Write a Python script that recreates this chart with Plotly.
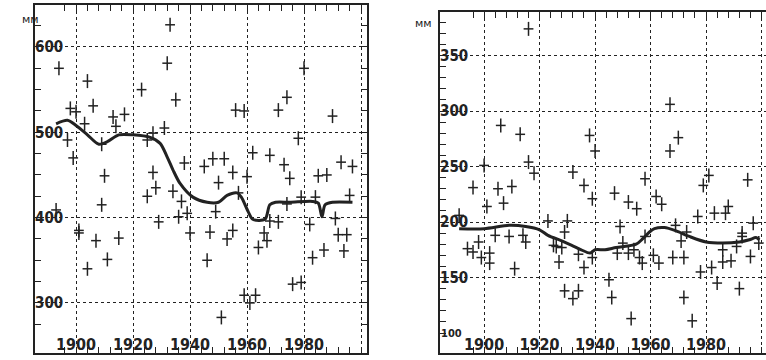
import plotly.graph_objects as go

# ---- Left panel data (mm) ----
left_years = [1933, 1894, 1904, 1932, 1923, 1935, 1980, 1974, 1971, 1956, 1959, 1990,
              1898, 1900, 1906, 1913, 1917, 1914, 1903, 1931, 1927, 1897, 1909, 1925,
              1978, 1899, 1962, 1968, 1938, 1945, 1948, 1952, 1973, 1993, 1997, 1927,
              1910, 1955, 1960, 1975, 1985, 1988, 1950, 1925, 1928, 1934, 1937, 1957,
              1909, 1893, 1939, 1936, 1949, 1929, 1979, 1984, 1996, 1974, 1968, 1971,
              1982, 1991, 1901, 1901, 1940, 1947, 1955, 1953, 1966, 1967, 1964, 1907,
              1915, 1992, 1995, 1987, 1994, 1911, 1946, 1983, 1904, 1976, 1979, 1959,
              1963, 1961, 1951]
left_vals = [626, 575, 560, 581, 550, 538, 575, 541, 526, 526, 525, 519,
             528, 524, 531, 518, 521, 507, 510, 505, 499, 491, 486, 491,
             493, 470, 476, 473, 464, 460, 469, 469, 462, 465, 460, 453,
             449, 453, 448, 446, 449, 450, 441, 425, 435, 431, 419, 429,
             415, 409, 405, 401, 407, 395, 424, 424, 426, 416, 396, 395,
             392, 399, 385, 382, 382, 383, 385, 375, 382, 373, 365, 373,
             376, 380, 380, 362, 361, 351, 350, 353, 340, 322, 324, 309,
             309, 300, 283]
left_curve_years = [1893, 1897, 1900, 1904, 1908, 1911, 1915, 1920, 1926, 1929.5,
                    1932, 1934, 1936.5, 1941, 1946, 1950, 1953, 1956.5, 1958, 1960.4,
                    1962, 1966.3, 1968, 1970, 1975, 1983, 1985, 1986.3, 1987.4, 1990, 1997]
left_curve_vals = [510, 514, 508, 497, 486, 489, 497, 497, 494, 487,
                   471, 456, 440, 424, 418, 418, 426, 429, 424, 407,
                   398, 398, 415, 418, 418, 419, 417, 401, 415, 418, 418]

# ---- Right panel data (mm) ----
right_years = [1916, 1906, 1913, 1938, 1940, 1967, 1970, 1967, 1900, 1916, 1918, 1932,
               1981, 1995, 1958, 1896, 1905, 1910, 1901, 1907, 1936, 1939, 1947, 1952,
               1955, 1962, 1964, 1979, 1983, 1987, 1988, 1977, 1891, 1923, 1930, 1949,
               1997, 1973, 1993, 1898, 1894, 1896, 1899, 1902, 1902, 1904, 1909, 1914,
               1915, 1911, 1925, 1926, 1928, 1929, 1927, 1934, 1936, 1939, 1948, 1950,
               1952, 1954, 1956, 1957, 1961, 1963, 1968, 1972, 1971, 1969, 1978, 1982,
               1986, 1989, 1986, 1984, 1992, 1996, 1999, 1993, 1929, 1934, 1932, 1945,
               1946, 1953, 1972, 1975, 1958, 1991]
right_vals = [374, 287, 279, 278, 264, 306, 276, 264, 251, 254, 244, 245,
              242, 238, 239, 231, 230, 232, 214, 217, 233, 221, 226, 218,
              212, 223, 216, 233, 208, 208, 214, 205, 206, 201, 201, 196,
              199, 191, 190, 182, 176, 173, 168, 172, 163, 188, 187, 188,
              182, 158, 179, 178, 177, 191, 164, 171, 159, 168, 172, 181,
              172, 175, 168, 163, 170, 163, 168, 168, 183, 197, 155, 159,
              164, 165, 175, 145, 140, 169, 181, 187, 138, 138, 131, 148,
              132, 113, 132, 111, 187, 178]
right_curve_years = [1891, 1900, 1909, 1915, 1920, 1923, 1928, 1931.6, 1935, 1938.2,
                     1940, 1943.6, 1947.6, 1954.8, 1957.2, 1959.6, 1961.4, 1965, 1969.2,
                     1974, 1980, 1986, 1992, 1995.6, 1998, 1999.2]
right_curve_vals = [194, 194, 197, 196, 193, 188, 183, 179, 175, 172,
                    175, 175, 177, 180, 185, 191, 194, 195, 192,
                    187, 182, 181, 182, 184, 186, 184]

left_ytick_vals = [300, 400, 500, 600]
right_ytick_vals = [150, 200, 250, 300, 350]
xtick_vals = [1900, 1920, 1940, 1960, 1980, 2000]
xtick_text = ["1900", "1920", "1940", "1960", "1980", ""]
x_small_ticks = list(range(1888, 2004, 4))
left_y_small_ticks = list(range(250, 650, 25))
right_y_small_ticks = list(range(90, 390, 10))
unit_label = "мм"
bottom_right_label = "100"

INK = "#222222"
FONT = "Liberation Sans Narrow, DejaVu Sans Condensed, Arial Narrow, sans-serif"

W, H = 766, 360
LX = [1885.6, 2002.1]
LY = [241.3, 649.2]
RX = [1884.1, 2001.6]
RY = [82, 389.2]


def px_x(p):
    return p / W


def px_y(p):
    return 1 - p / H


fig = go.Figure()

vbar = dict(symbol="line-ns", size=10, color=INK, line=dict(width=1.5, color=INK))
hbar = dict(symbol="line-ew", size=7, color=INK, line=dict(width=1.5, color=INK))

for xs, ys, cx, cy, xa, ya in [
    (left_years, left_vals, left_curve_years, left_curve_vals, "x", "y"),
    (right_years, right_vals, right_curve_years, right_curve_vals, "x2", "y2"),
]:
    fig.add_trace(go.Scatter(x=xs, y=ys, mode="markers", marker=vbar,
                             xaxis=xa, yaxis=ya, showlegend=False, hoverinfo="skip"))
    fig.add_trace(go.Scatter(x=xs, y=ys, mode="markers", marker=hbar,
                             xaxis=xa, yaxis=ya, showlegend=False))
    fig.add_trace(go.Scatter(x=cx, y=cy, mode="lines",
                             line=dict(color=INK, width=3, shape="spline", smoothing=0.8),
                             xaxis=xa, yaxis=ya, showlegend=False))

# empty traces on tick-only overlay axes
for xa, ya in [("x3", "y"), ("x", "y3"), ("x4", "y2"), ("x2", "y4")]:
    fig.add_trace(go.Scatter(x=[], y=[], xaxis=xa, yaxis=ya, showlegend=False))

common_x = dict(
    tickmode="array", tickvals=xtick_vals, ticktext=xtick_text, ticks="",
    ticklabelposition="inside",
    tickfont=dict(family=FONT, size=16, color=INK, weight="bold"),
    showgrid=True, gridcolor=INK, griddash="dot", gridwidth=1,
    showline=True, linecolor=INK, linewidth=2, zeroline=False,
)
common_y = dict(
    tickmode="array", ticks="", ticklabelposition="inside",
    tickfont=dict(family=FONT, size=15, color=INK, weight="bold"),
    showgrid=True, gridcolor=INK, griddash="dot", gridwidth=1,
    showline=True, linecolor=INK, linewidth=2, zeroline=False,
)
tick_only = dict(
    tickmode="array", ticks="inside", ticklen=6, tickwidth=1.3, tickcolor=INK,
    showticklabels=False, showgrid=False, zeroline=False, showline=False,
)

fig.update_layout(
    width=W, height=H, autosize=False,
    margin=dict(l=0, r=0, t=0, b=0),
    paper_bgcolor="white", plot_bgcolor="white",
    xaxis=dict(domain=[px_x(35), px_x(367)], range=LX, anchor="y",
               mirror=True, **common_x),
    yaxis=dict(domain=[px_y(353), px_y(5)], range=LY, anchor="x",
               tickvals=left_ytick_vals, mirror=True, **common_y),
    xaxis2=dict(domain=[px_x(440), 1.0], range=RX, anchor="y2",
                mirror=True, **common_x),
    yaxis2=dict(domain=[px_y(353), px_y(12)], range=RY, anchor="x2",
                tickvals=right_ytick_vals, mirror=False, **common_y),
    xaxis3=dict(overlaying="x", anchor="y", range=LX, tickvals=x_small_ticks,
                side="bottom", mirror="ticks", **tick_only),
    yaxis3=dict(overlaying="y", anchor="x", range=LY, tickvals=left_y_small_ticks,
                side="left", mirror="ticks", **tick_only),
    xaxis4=dict(overlaying="x2", anchor="y2", range=RX, tickvals=x_small_ticks,
                side="bottom", mirror="ticks", **tick_only),
    yaxis4=dict(overlaying="y2", anchor="x2", range=RY, tickvals=right_y_small_ticks,
                side="left", **tick_only),
    annotations=[
        dict(text=unit_label, xref="paper", yref="paper", x=px_x(20), y=px_y(11),
             showarrow=False, font=dict(family="DejaVu Sans", size=11, color=INK)),
        dict(text=unit_label, xref="paper", yref="paper", x=px_x(423), y=px_y(15),
             showarrow=False, font=dict(family="DejaVu Sans", size=11, color=INK)),
        dict(text=bottom_right_label, xref="x2", yref="y2", x=RX[0], y=100,
             xanchor="left", xshift=0, borderpad=0, showarrow=False,
             font=dict(family=FONT, size=11, color=INK, weight="bold")),
    ],
)

fig.write_html("out.html")
